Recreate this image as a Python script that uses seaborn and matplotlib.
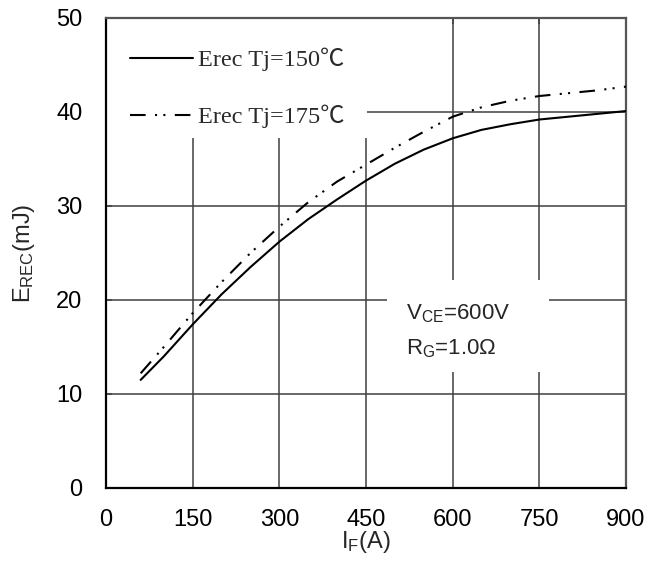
import matplotlib
matplotlib.use("Agg")
import matplotlib.pyplot as plt
from matplotlib.patches import Rectangle
from matplotlib.font_manager import FontProperties
import seaborn as sns
import pandas as pd

# ---- data ----
current_a = [60, 100, 150, 200, 250, 300, 350, 400, 450, 500, 550, 600, 650, 700, 750, 800, 850, 900]
erec_150 = [11.5, 14.0, 17.4, 20.6, 23.5, 26.2, 28.6, 30.7, 32.7, 34.5, 36.0, 37.2, 38.1, 38.7, 39.2, 39.5, 39.8, 40.1]
erec_175 = [12.2, 15.0, 18.6, 21.9, 25.0, 27.8, 30.4, 32.6, 34.4, 36.2, 37.9, 39.5, 40.5, 41.2, 41.7, 42.0, 42.3, 42.7]
label_150 = "Erec Tj=150℃"
label_175 = "Erec Tj=175℃"
x_ticks = [0, 150, 300, 450, 600, 750, 900]
y_ticks = [0, 10, 20, 30, 40, 50]
x_label = r"I$_{\mathrm{F}}$(A)"
y_label = r"E$_{\mathrm{REC}}$(mJ)"
cond_lines = [r"V$_{\mathrm{CE}}$=600V", r"R$_{\mathrm{G}}$=1.0Ω"]

sns.set_theme(style="white")
plt.rcParams["font.family"] = ["Liberation Sans", "DejaVu Sans"]
plt.rcParams["mathtext.fontset"] = "custom"
plt.rcParams["mathtext.rm"] = "Liberation Sans"
plt.rcParams["mathtext.it"] = "Liberation Sans:italic"
plt.rcParams["mathtext.bf"] = "Liberation Sans:bold"

df150 = pd.DataFrame({"I": current_a, "E": erec_150})
df175 = pd.DataFrame({"I": current_a, "E": erec_175})

fig = plt.figure(figsize=(6.49, 5.62), dpi=100)
ax = fig.add_axes([106 / 649, 1 - 488 / 562, 520 / 649, 470 / 562])

sns.lineplot(data=df150, x="I", y="E", ax=ax, color="black", linewidth=1.5,
             label=label_150, zorder=3)
sns.lineplot(data=df175, x="I", y="E", ax=ax, color="black", linewidth=1.5,
             linestyle=(0, (7.5, 4.5, 1, 3, 1, 4.5)), label=label_175, zorder=3)

ax.set_xlim(0, 900)
ax.set_ylim(0, 50)
ax.set_xticks(x_ticks)
ax.set_yticks(y_ticks)
ax.set_xticklabels([str(v) for v in x_ticks])
ax.set_yticklabels([str(v) for v in y_ticks])
ax.tick_params(axis="both", length=0, labelsize=17, colors="black")
ax.tick_params(axis="x", pad=15)
ax.tick_params(axis="y", pad=17)
ax.set_axisbelow(True)
ax.grid(True, color="#404040", linewidth=1.1)

ax.set_xlabel(x_label, fontsize=17, labelpad=-1)
ax.set_ylabel(y_label, fontsize=17, labelpad=14)

for s in ["left", "bottom"]:
    ax.spines[s].set_color("black")
    ax.spines[s].set_linewidth(1.6)
for s in ["top", "right"]:
    ax.spines[s].set_color("#555555")
    ax.spines[s].set_linewidth(1.6)

# white panels behind legend and conditions text
ax.add_patch(Rectangle((0, 0.745), 0.502, 0.255, transform=ax.transAxes,
                       facecolor="white", edgecolor="none", zorder=0.6))
ax.add_patch(Rectangle((0.540, 0.247), 0.312, 0.196, transform=ax.transAxes,
                       facecolor="white", edgecolor="none", zorder=0.6))

# inward tick stubs (drawn above the white panels)
secx = ax.secondary_xaxis("top")
secx.set_xticks(x_ticks)
secx.tick_params(direction="in", length=4.5, width=1.1, color="#404040", labeltop=False)
secx.spines["top"].set_visible(False)
secy = ax.secondary_yaxis("left")
secy.set_yticks(y_ticks)
secy.tick_params(direction="in", length=4.5, width=1.1, color="#404040", labelleft=False)
secy.spines["left"].set_visible(False)

leg_font = FontProperties(family=["Liberation Serif", "Noto Sans CJK SC", "DejaVu Serif"], size=17.5)
leg = ax.legend(loc="upper left", bbox_to_anchor=(0.046, 0.937), frameon=False,
                prop=leg_font, handlelength=2.6, handletextpad=0.2,
                labelspacing=1.38, borderpad=0, borderaxespad=0, labelcolor="#2a2a2a")

ax.text(0.577, 0.3596, cond_lines[0], transform=ax.transAxes, fontsize=16,
        va="baseline", ha="left", zorder=4)
ax.text(0.577, 0.285, cond_lines[1], transform=ax.transAxes, fontsize=16,
        va="baseline", ha="left", zorder=4)

fig.savefig("out.png", dpi=100)
